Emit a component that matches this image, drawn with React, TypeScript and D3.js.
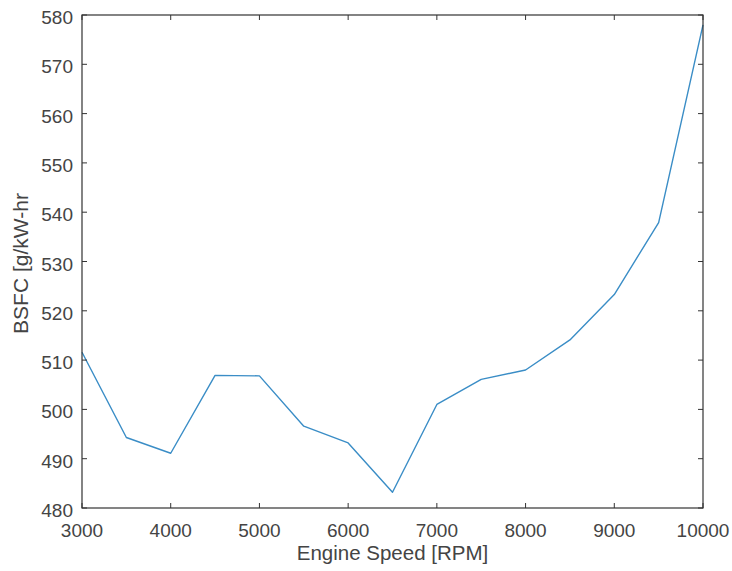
import React from "react";
import * as d3 from "d3";

const rpm = [3000, 3500, 4000, 4500, 5000, 5500, 6000, 6500, 7000, 7500, 8000, 8500, 9000, 9500, 10000];
const bsfc = [511.6, 494.3, 491.1, 506.9, 506.8, 496.6, 493.2, 483.2, 501.0, 506.1, 508.0, 514.1, 523.3, 537.9, 578.0];
const xTicks = [3000, 4000, 5000, 6000, 7000, 8000, 9000, 10000];
const yTicks = [480, 490, 500, 510, 520, 530, 540, 550, 560, 570, 580];
const xLabel = "Engine Speed [RPM]";
const yLabel = "BSFC [g/kW-hr";

export default function App() {
  const W = 732, H = 571;
  const L = 82, R = 703, T = 15, B = 508;
  const x = d3.scaleLinear().domain([3000, 10000]).range([L, R]);
  const y = d3.scaleLinear().domain([480, 580]).range([B, T]);
  const line = d3.line<number>().x((_, i) => x(rpm[i])).y((d) => y(d));
  const axisColor = "#333333";
  const textColor = "#444444";
  const tl = 5;
  const font = "Liberation Sans, Arial, sans-serif";
  return (
    <svg width={W} height={H} style={{ position: "absolute", left: 0, top: 0, background: "#fff" }}>
      <rect x={0} y={0} width={W} height={H} fill="#fff" />
      <path d={line(bsfc) || ""} fill="none" stroke="#3a8dc6" strokeWidth={1.4} strokeLinejoin="round" />
      <rect x={L} y={T} width={R - L} height={B - T} fill="none" stroke={axisColor} strokeWidth={1.2} />
      {xTicks.map((t) => (
        <g key={"x" + t}>
          <line x1={x(t)} x2={x(t)} y1={B} y2={B - tl} stroke={axisColor} />
          <line x1={x(t)} x2={x(t)} y1={T} y2={T + tl} stroke={axisColor} />
          <text x={x(t)} y={B + 29} textAnchor="middle" fontSize={19} fill={textColor} fontFamily={font}>{t}</text>
        </g>
      ))}
      {yTicks.map((t) => (
        <g key={"y" + t}>
          <line x1={L} x2={L + tl} y1={y(t)} y2={y(t)} stroke={axisColor} />
          <line x1={R} x2={R - tl} y1={y(t)} y2={y(t)} stroke={axisColor} />
          <text x={L - 9} y={y(t) + 9} textAnchor="end" fontSize={19} fill={textColor} fontFamily={font}>{t}</text>
        </g>
      ))}
      <text x={(L + R) / 2} y={560} textAnchor="middle" fontSize={20.5} fill={textColor} fontFamily={font}>{xLabel}</text>
      <text transform={`translate(28, ${(T + B) / 2 + 2}) rotate(-90)`} textAnchor="middle" fontSize={21} fill={textColor} fontFamily={font}>{yLabel}</text>
    </svg>
  );
}
